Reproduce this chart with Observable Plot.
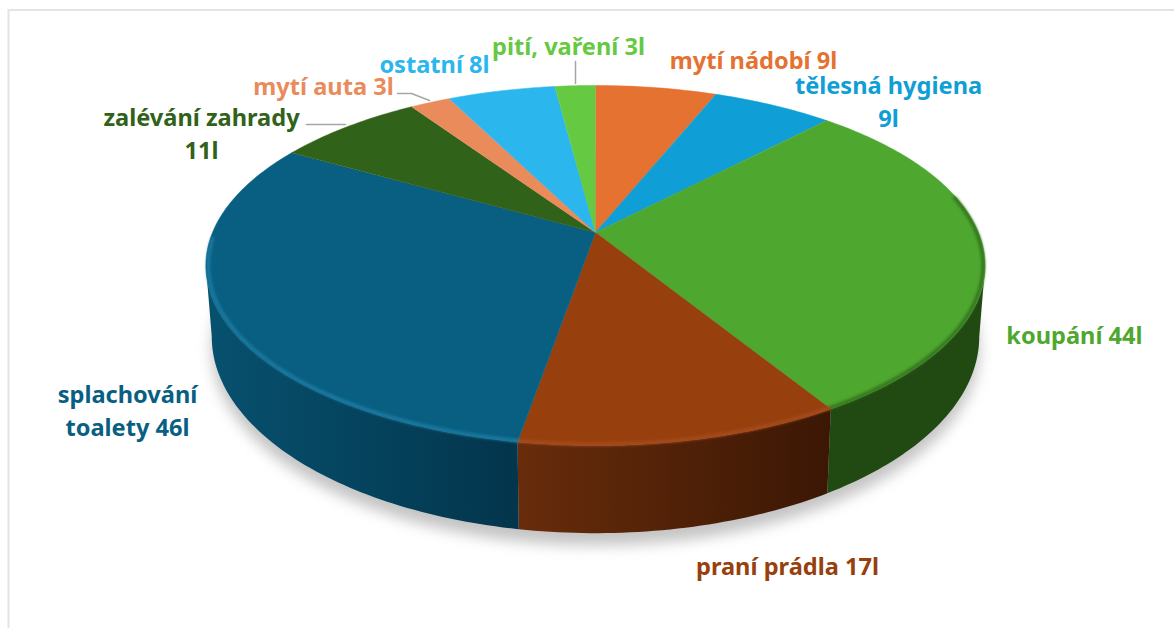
<!DOCTYPE html>
<html><head><meta charset="utf-8">
<script src="https://cdn.jsdelivr.net/npm/d3@7"></script>
<script src="https://cdn.jsdelivr.net/npm/@observablehq/plot@0.6"></script>
<style>
html,body{margin:0;padding:0;background:#fff;overflow:hidden}
svg{display:block}
.blur-rim{filter:blur(1.6px)}
.blur-shadow{filter:blur(7px)}
</style></head><body><div id="chart"></div>
<script>
// Data, clockwise from twelve o'clock
const categories = ["mytí nádobí","tělesná hygiena","koupání","praní prádla","splachování toalety","zalévání zahrady","mytí auta","ostatní","pití, vaření"];
const liters = [9,9,44,17,46,11,3,8,3];
const topColors = ["#E57230","#0F9ED5","#4EA72E","#97400D","#085F82","#30621A","#E98B5A","#2BB7EE","#65C942"];
const wallFrom = [null,null,"#214A13","#682C0B","#07516F",null,null,null,null];
const wallTo = [null,null,"#214A13","#3B1704","#03354C",null,null,null,null];
const labelLines = ["pití, vaření 3l","mytí nádobí 9l","tělesná hygiena\n9l","koupání 44l","praní prádla 17l","splachování\ntoalety 46l","zalévání zahrady\n11l","mytí auta 3l","ostatní 8l"];
const labelColors = ["#65C942","#E57230","#0F9ED5","#4EA72E","#97400D","#085F82","#30621A","#E98B5A","#2BB7EE"];

// Layout in pixels
const W = 1174, H = 628;
const cx = 595, cy = 232, A = 383, B = 174, k = 0.1834;
const lowerShift = (300 - cy) / B, lowerB = 190 / B, lowerA = 0.985;
const fromPx = (px, py) => ({x: (px - cx) / A, y: (cy - py) / B});
const labelPx = [[568,44],[753,58],[888,99],[1074,332.5],[787,563.5],[127,408],[201,131],[323,84],[434,62]];
const leaders = [[[575,61],[575,83]],[[397,93],[411,93],[429,100]],[[306,124],[345,124]]];

// Perspective projection of the disc (top plane and lower plane)
const total = d3.sum(liters);
const proj = (t, lower) => {
  const X = Math.sin(t), Y = Math.cos(t), d = 1 + k * Y;
  return lower
    ? {x: lowerA * X / d, y: -lowerShift + lowerB * Y / d}
    : {x: X / d, y: Y / d};
};
const deg = Math.PI / 180;
const arc = (a0, a1, lower) => {
  const n = Math.max(2, Math.ceil(Math.abs(a1 - a0) / deg));
  return d3.range(n + 1).map(i => proj(a0 + (a1 - a0) * i / n, lower));
};
let acc = 0;
const slices = liters.map((v, i) => {
  const a0 = acc / total * 2 * Math.PI; acc += v;
  return {i, a0, a1: acc / total * 2 * Math.PI};
});
// the wall is only seen between the two silhouette angles of the disc
const frontFrom = Math.acos(-k), frontTo = 2 * Math.PI - frontFrom;

const marks = [];
marks.push(() => {
  const defs = d3.create("svg:defs");
  slices.forEach(s => {
    if (!wallFrom[s.i]) return;
    const g = defs.append("linearGradient").attr("id", "wall" + s.i).attr("x1", 0).attr("x2", 1).attr("y1", 0).attr("y2", 0);
    g.append("stop").attr("offset", 0).attr("stop-color", wallFrom[s.i]);
    g.append("stop").attr("offset", 1).attr("stop-color", wallTo[s.i]);
  });
  return defs.node();
});

// frame of the picture
marks.push(Plot.ruleY([fromPx(0, 9.5).y], {stroke: "#e4e4e4", strokeWidth: 2, x1: fromPx(8, 0).x, x2: fromPx(W, 0).x}));
marks.push(Plot.ruleX([fromPx(8, 0).x], {stroke: "#e4e4e4", strokeWidth: 2, y1: fromPx(0, 9).y, y2: fromPx(0, H).y}));

// soft shadow
marks.push(Plot.line(
  arc(0, 2 * Math.PI, true).map(p => ({x: p.x, y: p.y - 0.07})),
  {x: "x", y: "y", fill: "#c4c4c4", stroke: "none", className: "blur-shadow"}
));

// walls
slices.forEach(s => {
  if (!wallFrom[s.i]) return;
  const a0 = Math.max(s.a0, frontFrom), a1 = Math.min(s.a1, frontTo);
  const rows = [...arc(a0, a1, false), ...arc(a1, a0, true)];
  marks.push(Plot.line(rows, {x: "x", y: "y", fill: `url(#wall${s.i})`, stroke: "none"}));
});

// top faces
slices.forEach(s => {
  const rows = [{x: 0, y: 0}, ...arc(s.a0, s.a1, false)];
  marks.push(Plot.line(rows, {x: "x", y: "y", fill: topColors[s.i], stroke: topColors[s.i], strokeWidth: 0.5}));
});

// bevel along the front of the rim
const rims = [
  {from: 78, to: 148.8, stroke: "#2f6a1b", inset: 0.995, width: 3},
  {from: 148.8, to: 189.6, stroke: "#A84C20", inset: 0.994, width: 3},
  {from: 189.6, to: 268, stroke: "#1F7FA8", inset: 0.994, width: 3}
];
rims.forEach(r => {
  marks.push(Plot.line(arc(r.from * deg, r.to * deg, false).map(p => ({x: p.x * r.inset, y: p.y * r.inset})),
    {x: "x", y: "y", stroke: r.stroke, strokeWidth: r.width, className: "blur-rim"}));
});

// leaders
leaders.forEach(l => marks.push(Plot.line(l.map(p => fromPx(p[0], p[1])),
  {x: "x", y: "y", stroke: "#a6a6a6", strokeWidth: 1.5})));

// labels
labelLines.forEach((t, i) => {
  const p = fromPx(labelPx[i][0], labelPx[i][1]);
  marks.push(Plot.text([t], {x: () => p.x, y: () => p.y, text: d => d, fill: labelColors[i],
    fontSize: 23.6, fontWeight: 700, fontFamily: "Noto Sans", lineHeight: 1.4, lineAnchor: "middle", textAnchor: "middle"}));
});

const chart = Plot.plot({
  width: W, height: H,
  margin: 0,
  x: {domain: [(0 - cx) / A, (W - cx) / A], range: [0, W], axis: null},
  y: {domain: [cy / B, (cy - H) / B], range: [0, H], axis: null},
  style: {background: "#fff"},
  marks
});
document.getElementById("chart").append(chart);
</script></body></html>
